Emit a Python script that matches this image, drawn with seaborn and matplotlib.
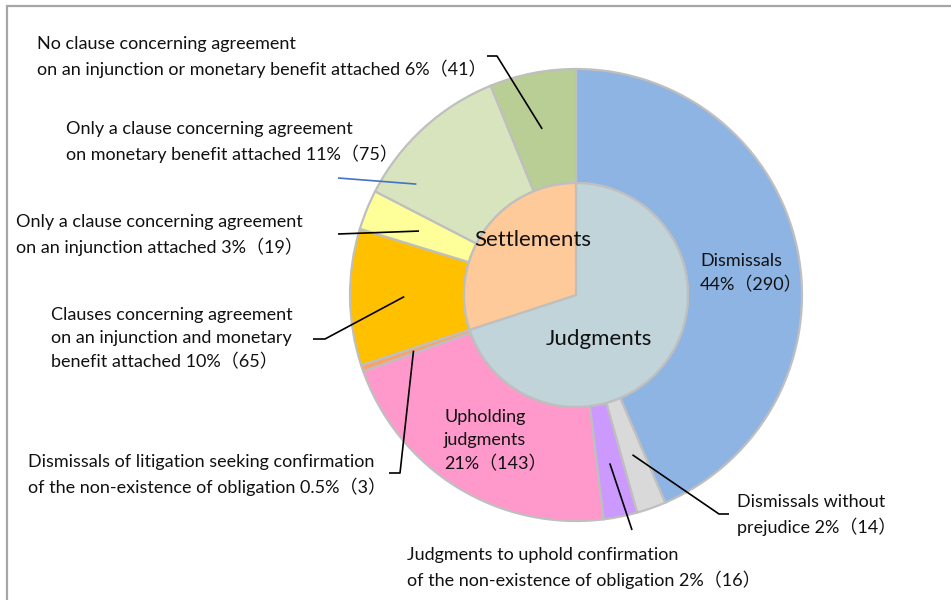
import numpy as np
import seaborn as sns
import matplotlib.pyplot as plt
from matplotlib.patches import Rectangle

# outer ring, clockwise from 12 o'clock
outer_labels = [
    'Dismissals\n44%（290）',
    'Dismissals without\nprejudice 2%（14）',
    'Judgments to uphold confirmation\nof the non-existence of obligation 2%（16）',
    'Upholding\njudgments\n21%（143）',
    'Dismissals of litigation seeking confirmation\nof the non-existence of obligation 0.5%（3）',
    'Clauses concerning agreement\non an injunction and monetary\nbenefit attached 10%（65）',
    'Only a clause concerning agreement\non an injunction attached 3%（19）',
    'Only a clause concerning agreement\non monetary benefit attached 11%（75）',
    'No clause concerning agreement\non an injunction or monetary benefit attached 6%（41）',
]
outer_counts = [290, 14, 16, 143, 3, 65, 19, 75, 41]
outer_colors = ['#8EB4E3', '#D9D9D9', '#CC99FF', '#FF99CC', '#F9A26C',
                '#FFC000', '#FFFF99', '#D7E4BD', '#B9CE94']

inner_labels = ['Judgments', 'Settlements']
inner_counts = [sum(outer_counts[:5]), sum(outer_counts[5:])]
inner_colors = ['#C0D4DA', '#FFCA99']

sns.set_theme(style='white')
plt.rcParams['font.family'] = ['Lato', 'Noto Sans CJK JP', 'DejaVu Sans']

W, H = 951, 600
CX, CY, R = 576, 295, 226


def px(x, y):
    '''pixel position -> data units (pie centred at 0, outer radius 1)'''
    return (x - CX) / R, (CY - y) / R


fig = plt.figure(figsize=(W / 100, H / 100), dpi=100)
ax = fig.add_axes([0, 0, 1, 1])
ax.axis('off')

r_in = 112 / R
edge = dict(edgecolor='#BFBFBF', linewidth=1.6)
ax.pie(outer_counts, colors=outer_colors, startangle=90, counterclock=False,
       radius=1, wedgeprops=dict(width=1 - r_in, **edge))
ax.pie(inner_counts, colors=inner_colors, startangle=90, counterclock=False,
       radius=r_in, wedgeprops=edge)

x0, y0 = px(0, H)
x1, y1 = px(W, 0)
ax.set_xlim(x0, x1)
ax.set_ylim(y0, y1)
ax.set_aspect('equal')

# wedge angles (clockwise from top)
total = sum(outer_counts)
bounds = np.concatenate([[0], np.cumsum(outer_counts)]) / total * 360


def anchor(i, frac=0.5, r=0.75):
    a = np.radians(bounds[i] + frac * (bounds[i + 1] - bounds[i]))
    return r * np.sin(a), r * np.cos(a)


# text placement (left x, centre y) in pixels, and leader elbow
text_pos = {
    0: (700, 273), 1: (737, 515), 2: (407, 568), 3: (444, 441),
    4: (28, 475), 5: (51, 339), 6: (16, 235), 7: (66, 142), 8: (37, 57),
}
leaders = {
    1: ([(729, 514), (719, 514)], 0.5, 0.75, 'black'),
    2: ([(632, 530)], 0.5, 0.76, 'black'),
    4: ([(389, 473), (400, 473)], 0.5, 0.76, 'black'),
    5: ([(313, 339), (325, 339)], 0.5, 0.76, 'black'),
    6: ([(338, 234)], 0.5, 0.75, 'black'),
    7: ([(338, 178)], 0.185, 0.86, '#4472C4'),
    8: ([(487, 56), (497, 56)], 0.48, 0.75, 'black'),
}

for i, lab in enumerate(outer_labels):
    tx, ty = px(*text_pos[i])
    ax.text(tx, ty, lab, ha='left', va='center', fontsize=13,
            linespacing=1.52, color='#111111')

for i, (pts, frac, r, col) in leaders.items():
    xs = [px(*p)[0] for p in pts]
    ys = [px(*p)[1] for p in pts]
    ax_, ay_ = anchor(i, frac, r)
    ax.plot(xs + [ax_], ys + [ay_], color=col, lw=1.2, solid_capstyle='butt')

ax.text(*px(533, 240), inner_labels[1], ha='center', va='center', fontsize=16,
        color='#111111')
ax.text(*px(599, 339), inner_labels[0], ha='center', va='center', fontsize=16,
        color='#111111')

fig.patches.append(Rectangle((7 / W, -0.1), 1.2, 1 - 6 / H + 0.1,
                             transform=fig.transFigure, fill=False,
                             edgecolor='#A6A6A6', linewidth=1.6))

fig.savefig('out.png', dpi=100, facecolor='white')
